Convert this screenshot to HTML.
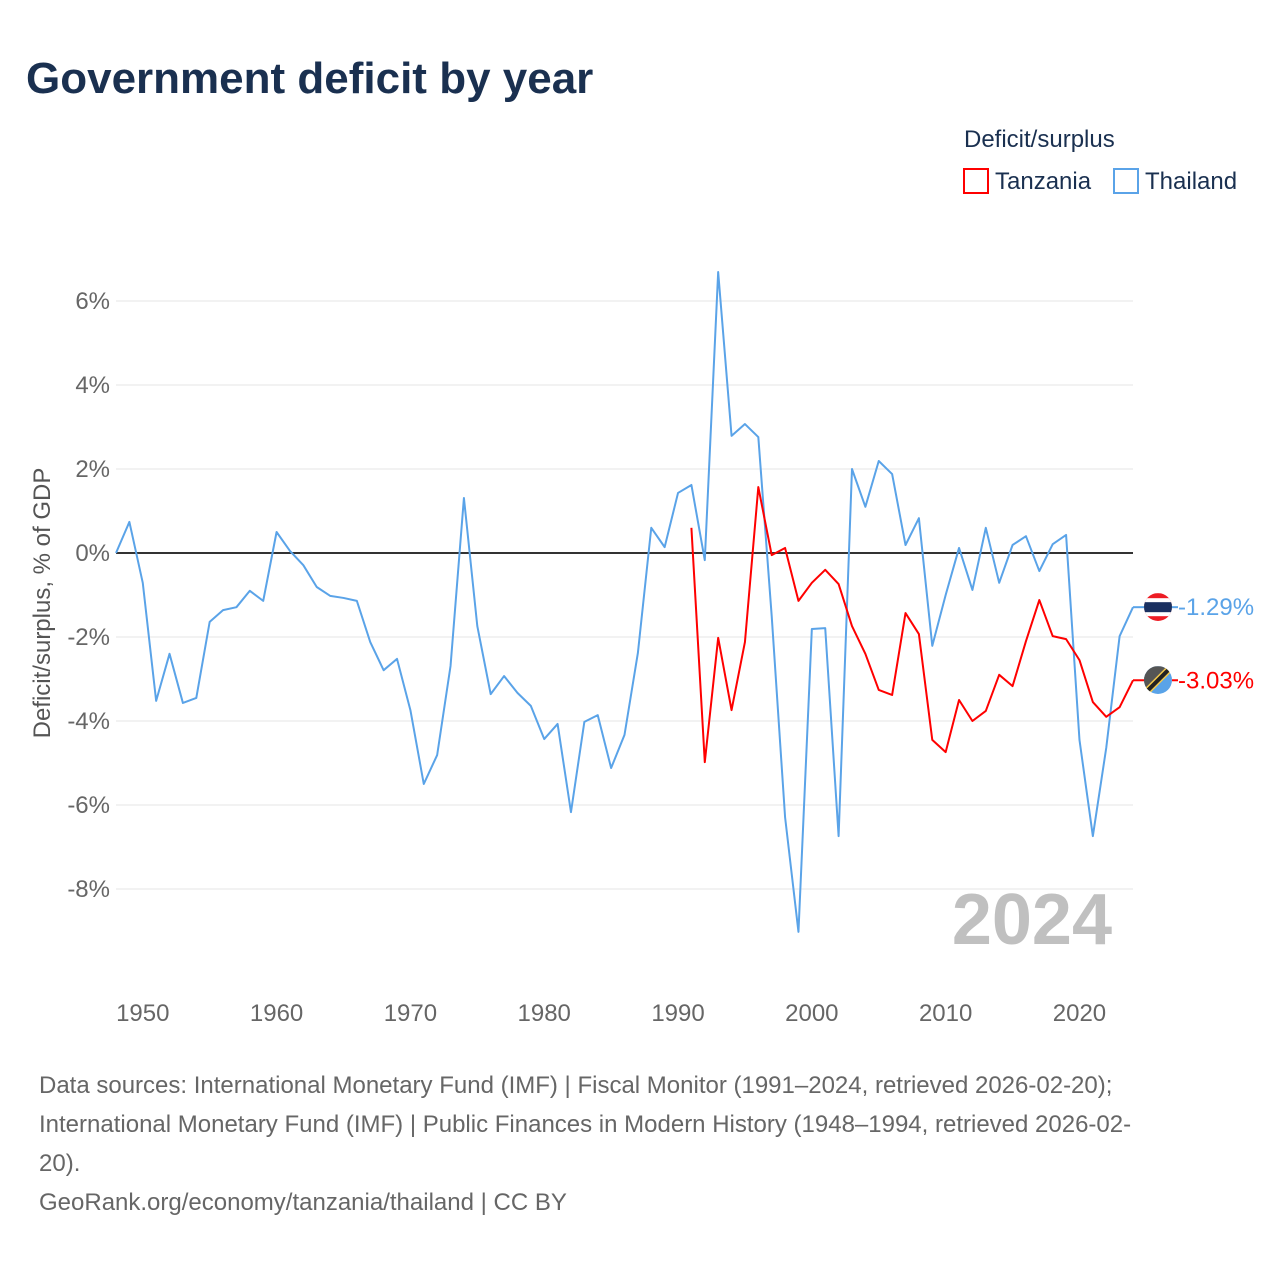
<!DOCTYPE html>
<html><head><meta charset="utf-8"><style>
body{margin:0;background:#fff;font-family:"Liberation Sans",sans-serif}
svg text{font-family:"Liberation Sans",sans-serif}
</style></head><body>
<svg width="1280" height="1280">
<defs>
<clipPath id="c1"><circle cx="1158" cy="607" r="14"/></clipPath>
<clipPath id="c2"><circle cx="1158" cy="680" r="14"/></clipPath>
</defs>
<text x="26" y="93" font-size="44" font-weight="bold" fill="#1a3050">Government deficit by year</text>
<text x="964" y="147" font-size="24" fill="#1a3050">Deficit/surplus</text>
<g><rect x="964" y="169" width="24" height="24" fill="none" stroke="#f00" stroke-width="2"/><text x="995" y="189" font-size="24" fill="#1a3050">Tanzania</text></g>
<g><rect x="1114" y="169" width="24" height="24" fill="none" stroke="#5aa3e8" stroke-width="2"/><text x="1145" y="189" font-size="24" fill="#1a3050">Thailand</text></g>
<g id="grid"></g><g id="yt"></g><g id="xt"></g>
<line x1="116" x2="1133" y1="553" y2="553" stroke="#333" stroke-width="2"/>
<text x="1112" y="944" font-size="72" font-weight="bold" fill="#c0c0c0" text-anchor="end">2024</text>
<text transform="translate(50,603) rotate(-90)" font-size="24" fill="#555" text-anchor="middle">Deficit/surplus, % of GDP</text>
<g id="lines"></g>
<g font-size="24" fill="#666">
<text x="39" y="1093">Data sources: International Monetary Fund (IMF) | Fiscal Monitor (1991–2024, retrieved 2026-02-20);</text>
<text x="39" y="1132">International Monetary Fund (IMF) | Public Finances in Modern History (1948–1994, retrieved 2026-02-</text>
<text x="39" y="1171">20).</text>
<text x="39" y="1210">GeoRank.org/economy/tanzania/thailand | CC BY</text>
</g>
</svg>
<script>
const yTicks=[6,4,2,0,-2,-4,-6,-8];
const xTicks=[1950,1960,1970,1980,1990,2000,2010,2020];
const thYears=[];for(let y=1948;y<=2024;y++)thYears.push(y);
const thVals=[0,0.74,-0.71,-3.52,-2.4,-3.57,-3.45,-1.64,-1.36,-1.29,-0.9,-1.14,0.5,0.05,-0.29,-0.81,-1.02,-1.07,-1.14,-2.12,-2.79,-2.52,-3.74,-5.5,-4.81,-2.69,1.31,-1.74,-3.36,-2.93,-3.33,-3.64,-4.43,-4.07,-6.17,-4.02,-3.86,-5.12,-4.33,-2.38,0.6,0.14,1.43,1.62,-0.17,6.69,2.79,3.07,2.76,-1.5,-6.29,-9.02,-1.81,-1.79,-6.74,2.0,1.1,2.19,1.88,0.19,0.83,-2.21,-1.0,0.12,-0.88,0.6,-0.71,0.19,0.4,-0.43,0.21,0.43,-4.45,-6.74,-4.64,-1.98,-1.29];
const tzYears=[];for(let y=1991;y<=2024;y++)tzYears.push(y);
const tzVals=[0.6,-4.98,-2.02,-3.74,-2.12,1.57,-0.05,0.12,-1.14,-0.71,-0.4,-0.74,-1.74,-2.4,-3.26,-3.38,-1.43,-1.93,-4.45,-4.74,-3.5,-4.0,-3.76,-2.9,-3.17,-2.1,-1.12,-1.98,-2.05,-2.55,-3.55,-3.9,-3.67,-3.03];
const NS='http://www.w3.org/2000/svg';
const X=y=>116+(y-1948)*(1133-116)/76;
const Y=v=>553-v*42;
function mk(t,a,p){const e=document.createElementNS(NS,t);for(const k in a)e.setAttribute(k,a[k]);p.appendChild(e);return e;}
const g=document.getElementById('grid'),yt=document.getElementById('yt'),xt=document.getElementById('xt'),L=document.getElementById('lines');
yTicks.forEach(v=>{
 const l=mk('line',{x1:116,x2:1133,y1:Y(v),y2:Y(v),stroke:'#e6e6e6','stroke-width':1},g);
 
 
 const t=mk('text',{x:110,y:Y(v)+8,'font-size':24,fill:'#666','text-anchor':'end'},yt);t.textContent=v+'%';
 
 
});
xTicks.forEach(v=>{
 const t=mk('text',{x:X(v),y:1021,'font-size':24,fill:'#666','text-anchor':'middle'},xt);t.textContent=v;
 
 
});
function line(ys,vs,c,name,flag){
 const p=mk('polyline',{points:ys.map((y,i)=>X(y)+','+Y(vs[i])).join(' '),fill:'none',stroke:c,'stroke-width':2,'stroke-linejoin':'round'},L);
 
 
 const last=vs[vs.length-1],ly=Y(last),lx=X(ys[ys.length-1]);
 mk('line',{x1:lx,x2:1146,y1:ly,y2:ly,stroke:c,'stroke-width':2},L);
 const m=mk('g',{},L);
 
 
 const cx=1158;
 if(flag==='th'){
  const cl=mk('g',{'clip-path':'url(#c1)'},m);
  mk('rect',{x:cx-14,y:ly-14,width:28,height:28,fill:'#ed1c24'},cl);
  mk('rect',{x:cx-14,y:ly-9,width:28,height:18,fill:'#fff'},cl);
  mk('rect',{x:cx-14,y:ly-5,width:28,height:10,fill:'#1a3060'},cl);
 }else{
  const cl=mk('g',{'clip-path':'url(#c2)'},m);
  mk('rect',{x:cx-14,y:ly-14,width:28,height:28,fill:'#5aa3e8'},cl);
  mk('polygon',{points:(cx-14)+','+(ly-14)+' '+(cx+14)+','+(ly-14)+' '+(cx-14)+','+(ly+14),fill:'#555'},cl);
  mk('line',{x1:cx-16,y1:ly+16,x2:cx+16,y2:ly-16,stroke:'#f2c94c','stroke-width':7},cl);
  mk('line',{x1:cx-16,y1:ly+16,x2:cx+16,y2:ly-16,stroke:'#222','stroke-width':4},cl);
 }
 mk('line',{x1:1172,x2:1178,y1:ly,y2:ly,stroke:c,'stroke-width':2},L);
 const t=mk('text',{x:1178,y:ly+8,'font-size':24,fill:c},L);t.textContent=last.toFixed(2)+'%';
 
 
}
line(thYears,thVals,'#5aa3e8','thailand-line','th');
line(tzYears,tzVals,'#f00','tanzania-line','tz');
</script>
</body></html>
